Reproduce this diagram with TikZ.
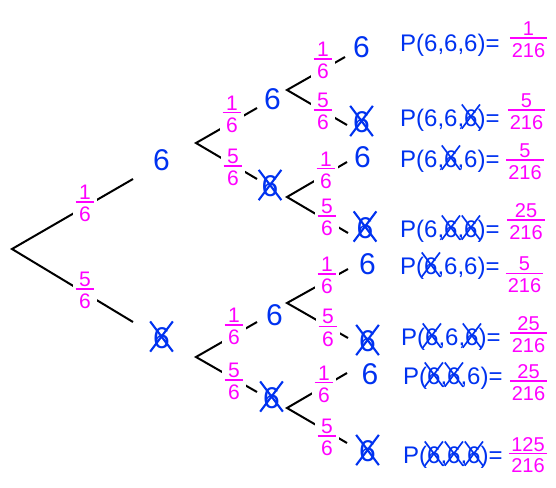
\documentclass[tikz,border=0pt]{standalone}
\usepackage{fontspec}
\setmainfont{Liberation Sans}
\definecolor{xblue}{RGB}{0,50,240}
\definecolor{xmag}{RGB}{255,0,255}
\newcommand\fr[3][3.5pt]{\vbox{\offinterlineskip\halign{\hfil\kern#1##\kern#1\hfil\cr #2\cr\noalign{\kern1.5pt\hrule height1.5pt\kern4.5pt}#3\cr}}}
\tikzset{
  xstroke/.style={draw=xblue,line width=.07em,overlay},
  branch/.style={draw=black,line width=2pt,line join=miter},
  six/.style={font=\fontsize{30}{32}\selectfont,text=xblue,inner sep=0pt},
  lab/.style={font=\fontsize{21}{23}\selectfont,text=xmag,fill=white,inner xsep=3pt,inner ysep=1pt},
  pfrac/.style={font=\fontsize{20}{22}\selectfont,text=xmag,inner sep=0pt},
  ptext/.style={font=\fontsize{24}{26}\selectfont,text=xblue,anchor=base west,inner sep=0pt}
}
\newcommand\xs{\tikz[baseline=(xs.base)]{\node[inner sep=0pt,outer sep=0pt](xs){6};\draw[xstroke] ([shift={(-.1em,-.1em)}]xs.south west) -- ([shift={(.1em,.2em)}]xs.north east) ([shift={(-.1em,.2em)}]xs.north west) -- ([shift={(.1em,-.1em)}]xs.south east);}}
\begin{document}
\begin{tikzpicture}[x=1pt,y=-1pt]
\useasboundingbox (0,0) rectangle (556,487);
% vertices and branch tips
\coordinate (V0) at (12,249);
\coordinate (t1) at (133,179); \coordinate (t2) at (133,322);
\coordinate (V1) at (196,143);
\coordinate (t11) at (257,108); \coordinate (t12) at (257,179);
\coordinate (V11) at (287,90);
\coordinate (t111) at (345,57); \coordinate (t112) at (347,125);
\coordinate (V12) at (287,197);
\coordinate (t121) at (347,162); \coordinate (t122) at (348,233);
\coordinate (V2) at (196,357);
\coordinate (t21) at (257,322); \coordinate (t22) at (257,392);
\coordinate (V21) at (287,303);
\coordinate (t211) at (348,269); \coordinate (t212) at (348,338);
\coordinate (V22) at (287,408);
\coordinate (t221) at (347,373); \coordinate (t222) at (347,443);
% outcome nodes
\node[six] (N1) at (161.5,160) {6};
\node[six] (N2) at (161.5,338) {\xs};
\node[six] (N11) at (272.5,99) {6};
\node[six] (N12) at (270,186.5) {\xs};
\node[six] (N111) at (361.5,47.5) {6};
\node[six] (N112) at (361.5,122.5) {\xs};
\node[six] (N121) at (362.5,157.5) {6};
\node[six] (N122) at (365,228) {\xs};
\node[six] (N21) at (274.5,315) {6};
\node[six] (N22) at (271.5,398) {\xs};
\node[six] (N211) at (367.5,264) {6};
\node[six] (N212) at (367.5,341.5) {\xs};
\node[six] (N221) at (370,374) {6};
\node[six] (N222) at (367.5,451.5) {\xs};
% branches
\draw[branch] (t1) -- (V0) -- (t2);
\draw[branch] (t11) -- (V1) -- (t12);
\draw[branch] (t111) -- (V11) -- (t112);
\draw[branch] (t121) -- (V12) -- (t122);
\draw[branch] (t21) -- (V2) -- (t22);
\draw[branch] (t211) -- (V21) -- (t212);
\draw[branch] (t221) -- (V22) -- (t222);
% probability labels
\node[lab] (LA1) at (85,203.5) {\fr{1}{6}};
\node[lab] (LA2) at (85,290.5) {\fr{5}{6}};
\node[lab] (LA11) at (232,114) {\fr{1}{6}};
\node[lab] (LA12) at (233,167.5) {\fr{5}{6}};
\node[lab] (LA111) at (323,60.5) {\fr{1}{6}};
\node[lab] (LA112) at (323,111.5) {\fr{5}{6}};
\node[lab] (LA121) at (326,170) {\fr{1}{6}};
\node[lab] (LA122) at (327,217.5) {\fr{5}{6}};
\node[lab] (LA21) at (234,326.5) {\fr{1}{6}};
\node[lab] (LA22) at (234,381.5) {\fr{5}{6}};
\node[lab] (LA211) at (327,275.5) {\fr{1}{6}};
\node[lab] (LA212) at (328,328) {\fr{5}{6}};
\node[lab] (LA221) at (324,384) {\fr{1}{6}};
\node[lab] (LA222) at (327,437.5) {\fr{5}{6}};
% results
\node[ptext] (P1) at (400,52) {P(6,6,6)=};
\node[ptext] (P2) at (400,126) {P(6,6,\xs)=};
\node[ptext] (P3) at (400,167) {P(6,\xs,6)=};
\node[ptext] (P4) at (400,237) {P(6,\xs,\xs)=};
\node[ptext] (P5) at (400,274) {P(\xs,6,6)=};
\node[ptext] (P6) at (401,345) {P(\xs,6,\xs)=};
\node[ptext] (P7) at (403,384) {P(\xs,\xs,6)=};
\node[ptext] (P8) at (403,463) {P(\xs,\xs,\xs)=};
\node[pfrac] (F1) at (528.5,39.5) {\fr[2pt]{1}{216}};
\node[pfrac] (F2) at (526.5,111.5) {\fr[2pt]{5}{216}};
\node[pfrac] (F3) at (525,161.5) {\fr[2pt]{5}{216}};
\node[pfrac] (F4) at (526,221.5) {\fr[2pt]{25}{216}};
\node[pfrac] (F5) at (524.5,275) {\fr[2pt]{5}{216}};
\node[pfrac] (F6) at (528.5,334.5) {\fr[2pt]{25}{216}};
\node[pfrac] (F7) at (528.5,382.5) {\fr[2pt]{25}{216}};
\node[pfrac] (F8) at (528,455) {\fr[2pt]{125}{216}};
\end{tikzpicture}
\end{document}
